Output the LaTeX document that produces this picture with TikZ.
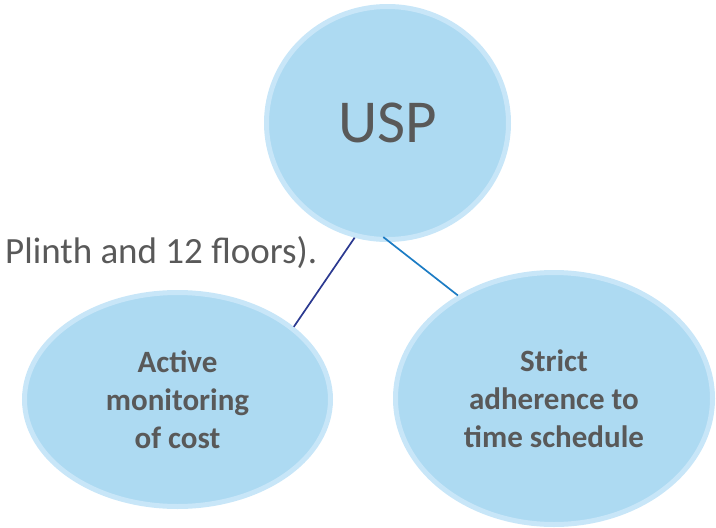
\documentclass[tikz,border=0pt]{standalone}
\usepackage{fontspec}
\setmainfont{Carlito}
\usetikzlibrary{shapes.geometric}
\definecolor{bubblefill}{HTML}{ADDAF2}
\definecolor{bubblering}{HTML}{C8E6F8}
\definecolor{textgrey}{HTML}{595959}
\definecolor{linknavy}{HTML}{2B3990}
\definecolor{linkblue}{HTML}{1C7CC4}
\tikzset{
  bubble/.style={ellipse, draw=bubblering, fill=bubblefill, line width=5pt,
    inner sep=0pt, text=textgrey, align=center},
  bubbletext/.style={font=\bfseries\fontsize{31}{38}\selectfont},
  link/.style={line width=1.7pt}
}

\begin{document}
\begin{tikzpicture}[x=1pt,y=-1pt]
  \useasboundingbox (0,0) rectangle (716,528);

  % ---------- left-over text line ----------
  \node[anchor=base west, inner sep=0pt, text=textgrey,
    font=\fontsize{37}{44}\selectfont] (plinth) at (5,263) {Plinth and 12 floors).};

  % ---------- bubbles ----------
  \node[bubble, minimum width=242pt, minimum height=233pt,
    font=\fontsize{61}{70}\selectfont] (usp) at (387.5,123) {USP};
  \node[bubble, bubbletext, minimum width=306pt, minimum height=214pt]
    (cost) at (177.5,399.5) {Active\\ monitoring\\ of cost};
  \node[bubble, bubbletext, minimum width=317pt, minimum height=252pt]
    (time) at (554,398.5) {Strict\\ adherence to\\ time schedule};

  % ---------- links ----------
  \draw[link, linknavy] (usp.254.5) -- (cost.32);
  \draw[link, linkblue, shorten <=-8pt] (usp.271) -- (time.133.4);
\end{tikzpicture}
\end{document}
